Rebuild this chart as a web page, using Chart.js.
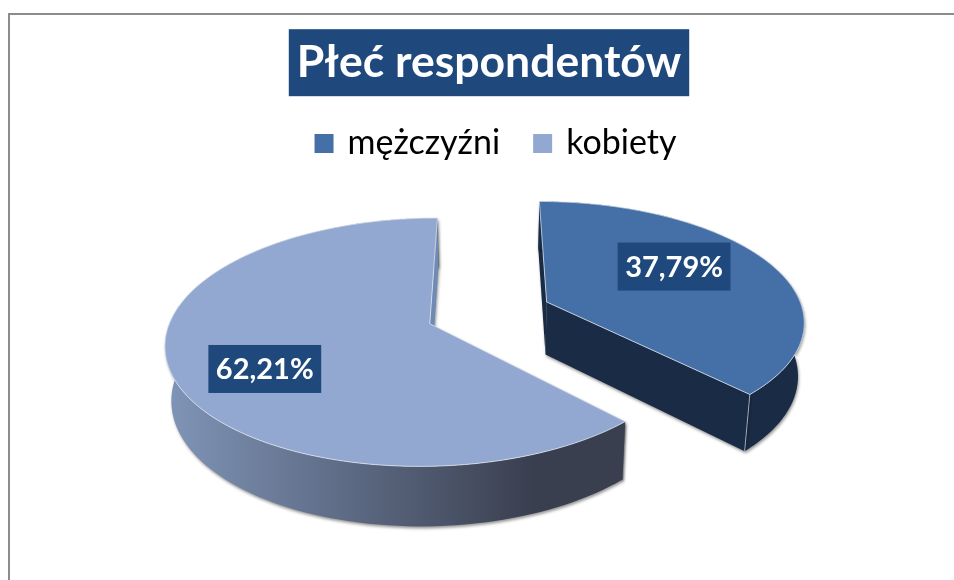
<!DOCTYPE html>
<html lang="pl">
<head>
    <meta charset="UTF-8">
    <title>Płeć respondentów</title>
    <script src="https://cdn.jsdelivr.net/npm/chart.js"></script>
    <style>
        html, body { margin: 0; background: #fff; overflow: hidden; width: 954px; height: 580px; }
        #frame { position: absolute; left: 8px; top: 13px; width: 1000px; height: 620px; border: 2px solid #8c8c8c; }
        #myChart { position: absolute; left: 8px; top: 0; }
    </style>
</head>
<body>
    <div id="frame"></div>
    <canvas id="myChart" width="962" height="580"></canvas>

    <script>
        const categories = ['mężczyźni', 'kobiety'];
        const shares = [37.79, 62.21];
        const chartTitle = 'Płeć respondentów';

        const topColors = ['#4570a7', '#93a8d0'];
        const sideColors = ['#1a2b45', '#6f8ab5'];
        const wallStops = [['#1a2b45', '#1a2b45'], ['#8095b8', '#3a3f4f']];
        const labelRadius = [0.626, 0.686];

        // fake 3D view of the pie plane
        const PIE_RADIUS = 257;
        const TILT = 0.46;
        const PERSPECTIVE = 0.000571;
        const DEPTH = 53;
        const BOTTOM_SCALE = 0.98;
        const LABEL_TURN = -9 * Math.PI / 180;

        function project(cx, cy, u, v, bottom) {
            const d = 1 - PERSPECTIVE * v;
            const s = bottom ? BOTTOM_SCALE : 1;
            const h = bottom ? DEPTH : 0;
            return [cx + s * u / d, cy + s * TILT * v / d + h / d];
        }

        function rimPoints(arc, bottom) {
            const mid = (arc.startAngle + arc.endAngle) / 2;
            const ex = arc.options.offset * Math.cos(mid);
            const ey = arc.options.offset * Math.sin(mid);
            const pts = [];
            const steps = 120;
            for (let i = 0; i <= steps; i++) {
                const a = arc.startAngle + (arc.endAngle - arc.startAngle) * i / steps;
                pts.push(project(arc.x, arc.y, ex + PIE_RADIUS * Math.cos(a), ey + PIE_RADIUS * Math.sin(a), bottom));
            }
            return { pts, apex: project(arc.x, arc.y, ex, ey, bottom) };
        }

        function fillPoly(ctx, pts, fill) {
            ctx.beginPath();
            pts.forEach((p, i) => i ? ctx.lineTo(p[0], p[1]) : ctx.moveTo(p[0], p[1]));
            ctx.closePath();
            ctx.fillStyle = fill;
            ctx.fill();
        }

        const pie3d = {
            id: 'pie3d',
            afterLayout(chart) {
                // legend sits a bit right of the title in the original
                chart.legend.left += 8;
                chart.legend.right += 8;
            },
            beforeDraw(chart) {
                const ctx = chart.ctx;
                const block = chart.titleBlock;
                const font = chart.options.plugins.title.font;
                ctx.save();
                ctx.font = font.weight + ' ' + font.size + 'px ' + font.family;
                const w = ctx.measureText(chartTitle).width + 16;
                const mid = block.top + block.options.padding.top + font.size * 0.6;
                ctx.fillStyle = '#1f497d';
                ctx.fillRect(chart.width / 2 - w / 2, mid - 33.5, w, 67);
                ctx.restore();
            },
            beforeDatasetDraw(chart, args) {
                const ctx = chart.ctx;
                const arcs = chart.getDatasetMeta(args.index).data;
                ctx.save();
                arcs.forEach((arc, i) => {
                    const top = rimPoints(arc, false);
                    const low = rimPoints(arc, true);
                    const n = top.pts.length - 1;
                    const wallPts = top.pts.concat(low.pts.slice().reverse());
                    const xs = wallPts.map(p => p[0]);
                    const grad = ctx.createLinearGradient(Math.min(...xs), 0, Math.max(...xs), 0);
                    grad.addColorStop(0, wallStops[i][0]);
                    grad.addColorStop(0.8, wallStops[i][1]);
                    grad.addColorStop(1, wallStops[i][1]);

                    ctx.shadowColor = 'rgba(0,0,0,0.4)';
                    ctx.shadowBlur = 3;
                    ctx.shadowOffsetX = 1;
                    ctx.shadowOffsetY = 2;
                    fillPoly(ctx, [top.apex, top.pts[0], low.pts[0], low.apex], sideColors[i]);
                    fillPoly(ctx, wallPts, grad);
                    fillPoly(ctx, [top.apex, top.pts[n], low.pts[n], low.apex], sideColors[i]);
                    ctx.shadowColor = 'transparent';

                    // thin light bevel on the front corner
                    ctx.strokeStyle = 'rgba(205,214,228,0.7)';
                    ctx.lineWidth = 1;
                    if (i === 0) {
                        ctx.beginPath();
                        ctx.moveTo(top.pts[n][0], top.pts[n][1]);
                        ctx.lineTo(low.pts[n][0], low.pts[n][1]);
                        ctx.stroke();
                    }

                    fillPoly(ctx, [top.apex].concat(top.pts), arc.options.backgroundColor);
                    ctx.strokeStyle = 'rgba(225,232,242,0.75)';
                    ctx.stroke();
                });
                ctx.restore();
                return false;
            },
            afterDatasetsDraw(chart) {
                const ctx = chart.ctx;
                const arcs = chart.getDatasetMeta(0).data;
                ctx.save();
                ctx.font = 'bold 29px Lato';
                ctx.textAlign = 'center';
                ctx.textBaseline = 'middle';
                arcs.forEach((arc, i) => {
                    const mid = (arc.startAngle + arc.endAngle) / 2;
                    const a = mid + LABEL_TURN;
                    const r = PIE_RADIUS * labelRadius[i];
                    const pos = project(arc.x, arc.y,
                        arc.options.offset * Math.cos(mid) + r * Math.cos(a),
                        arc.options.offset * Math.sin(mid) + r * Math.sin(a), false);
                    const text = shares[i].toFixed(2).replace('.', ',') + '%';
                    const w = ctx.measureText(text).width + 15;
                    ctx.fillStyle = '#1f497d';
                    ctx.fillRect(pos[0] - w / 2, pos[1] - 24, w, 48);
                    ctx.fillStyle = '#fff';
                    ctx.fillText(text, pos[0], pos[1] + 1);
                });
                ctx.restore();
            }
        };

        new Chart(document.getElementById('myChart'), {
            type: 'pie',
            data: {
                labels: categories,
                datasets: [{
                    data: shares,
                    backgroundColor: topColors,
                    borderWidth: 0,
                    offset: 63
                }]
            },
            options: {
                responsive: false,
                animation: false,
                layout: { padding: { bottom: 125 } },
                plugins: {
                    title: {
                        display: true,
                        text: chartTitle,
                        color: '#fff',
                        font: { family: 'Lato', size: 44.5, weight: 'bold' },
                        padding: { top: 36, bottom: 1 }
                    },
                    legend: {
                        position: 'top',
                        labels: {
                            color: '#000',
                            font: { family: 'Lato', size: 34 },
                            usePointStyle: true,
                            pointStyle: 'rect',
                            boxWidth: 13,
                            boxHeight: 19,
                            padding: 36
                        }
                    },
                    tooltip: { enabled: false }
                }
            },
            plugins: [pie3d]
        });
    </script>
</body>
</html>
